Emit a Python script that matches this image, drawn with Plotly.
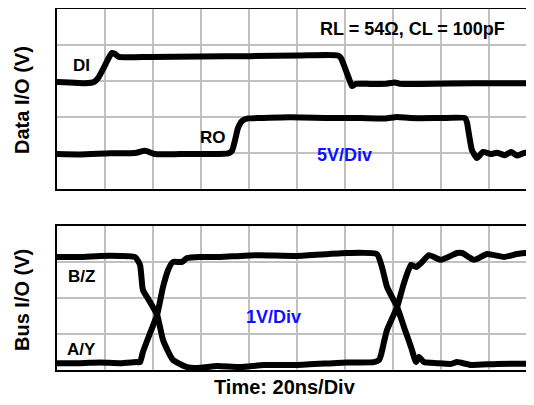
import plotly.graph_objects as go

# Time axis in ns (20 ns/div); vertical values in screen divisions
di_t = [0, 5.4, 11.7, 15.4, 17.1, 19.2, 21.3, 22.9, 24.2, 25.8, 38.8, 59.6, 80.4, 101.3, 117.1, 118.3,
        120.0, 121.7, 122.9, 124.6, 130.4, 136.7, 140.8, 142.9, 151.3, 163.8, 184.6, 202.1]
di_v = [2.97, 2.96, 2.94, 2.97, 3.08, 3.33, 3.61, 3.78, 3.75, 3.67, 3.67, 3.68, 3.69, 3.71, 3.71, 3.64,
        3.36, 3.06, 2.86, 2.92, 2.92, 2.92, 2.96, 2.92, 2.92, 2.93, 2.94, 2.94]

ro_t = [0, 9.6, 22.1, 32.5, 36.7, 40.8, 51.3, 63.8, 71.3, 72.9, 74.2, 75.4, 77.1, 79.6, 84.6, 97.1,
        113.8, 126.3, 136.7, 141.7, 147.1, 159.6, 170.0, 170.8, 171.7, 172.9, 175.0, 177.5, 180.8,
        183.3, 186.7, 189.2, 191.7, 194.6, 202.1]
ro_v = [0.97, 0.96, 0.99, 1.00, 1.06, 0.97, 0.97, 0.97, 0.99, 1.06, 1.36, 1.69, 1.89, 1.96, 1.97, 1.99,
        1.97, 1.97, 1.96, 2.00, 1.97, 1.97, 1.97, 1.86, 1.50, 1.08, 0.86, 1.03, 0.97,
        1.01, 0.94, 1.03, 0.93, 1.00, 1.00]

bz_t = [0, 9.6, 17.9, 26.3, 32.5, 34.6, 35.8, 38.3, 41.7, 44.2, 48.3, 54.2, 59.6, 66.7, 76.3, 86.3,
        100.0, 120.8, 132.1, 134.2, 135.0, 137.5, 141.7, 144.6, 147.5, 149.6, 151.7, 155.0, 160.0,
        166.7, 168.8, 173.8, 179.2, 186.3, 191.7, 195.8, 202.1]
bz_v = [3.14, 3.14, 3.17, 3.17, 3.14, 2.92, 2.22, 1.94, 1.53, 0.83, 0.28, 0.08, 0.06, 0.11, 0.08, 0.14,
        0.14, 0.21, 0.22, 0.28, 0.42, 1.11, 1.75, 2.42, 2.92, 2.86, 2.97, 3.19, 3.06,
        3.25, 3.25, 3.06, 3.22, 3.14, 3.22, 3.25, 3.19]

ay_t = [0, 9.6, 17.9, 26.3, 33.3, 34.6, 35.8, 38.8, 41.7, 44.2, 46.3, 48.3, 52.1, 54.2, 59.6, 67.9,
        76.3, 84.6, 100.0, 120.8, 133.3, 135.4, 137.5, 141.7, 144.6, 147.5, 149.6, 150.8, 152.9,
        158.3, 164.2, 166.7, 172.5, 183.3, 202.1]
ay_v = [0.19, 0.19, 0.21, 0.19, 0.22, 0.22, 0.50, 1.03, 1.53, 2.31, 2.78, 3.00, 3.00, 3.11, 3.14, 3.14,
        3.17, 3.19, 3.17, 3.25, 3.22, 2.86, 2.31, 1.75, 1.19, 0.64, 0.22, 0.36, 0.22,
        0.19, 0.17, 0.22, 0.14, 0.17, 0.17]

top_divs = 5
bot_divs = 4

L, R, T, B = 49, 0, 1, 43
W, H = 534, 405
plot_w = W - L - R
plot_h = H - T - B
x_max = plot_w / 48 * 20  # 48 px per 20 ns division

line_style = dict(color="black", width=6, shape="spline", smoothing=0.5)

fig = go.Figure()
fig.add_trace(go.Scatter(x=di_t, y=di_v, mode="lines", line=line_style, xaxis="x", yaxis="y"))
fig.add_trace(go.Scatter(x=ro_t, y=ro_v, mode="lines", line=line_style, xaxis="x", yaxis="y"))
fig.add_trace(go.Scatter(x=bz_t, y=bz_v, mode="lines", line=line_style, xaxis="x2", yaxis="y2"))
fig.add_trace(go.Scatter(x=ay_t, y=ay_v, mode="lines", line=line_style, xaxis="x2", yaxis="y2"))

grid = "#c0c0c0"
ax_common = dict(range=[0, x_max], dtick=20, tick0=0, showgrid=True, gridcolor=grid, gridwidth=1.5,
                 showticklabels=False, ticks="", zeroline=False, showline=True, linecolor="black",
                 linewidth=2, mirror=True, fixedrange=True)
ay_common = dict(dtick=1, showgrid=True, gridcolor=grid, gridwidth=1.5,
                 showticklabels=False, ticks="", zeroline=False, showline=True, linecolor="black",
                 linewidth=2, mirror=False, fixedrange=True)

# panel pixel extents (figure coords)
top_dom = [(H - B - 181) / plot_h, 1]
bot_dom = [0, (H - B - 218) / plot_h]

fig.update_layout(
    width=W, height=H,
    margin=dict(l=L, r=R, t=T, b=B),
    plot_bgcolor="white", paper_bgcolor="white",
    showlegend=False,
    font=dict(family="Liberation Sans, Arial, sans-serif", size=18, color="black"),
    xaxis=dict(ax_common, anchor="y"),
    xaxis2=dict(ax_common, anchor="y2"),
    yaxis=dict(ay_common, domain=top_dom, range=[0, top_divs], anchor="x"),
    yaxis2=dict(ay_common, domain=bot_dom, range=[0, bot_divs], anchor="x2"),
)

def lab(text, x, y, xref="x", yref="y", color="black", size=18, angle=0):
    fig.add_annotation(text="<b>%s</b>" % text, x=x, y=y, xref=xref, yref=yref, showarrow=False,
                       font=dict(color=color, size=size), textangle=angle,
                       xanchor="center", yanchor="middle")

lab("DI", 10, 3.42, size=17)
lab("RO", 65, 1.44, size=17)
lab("RL = 54Ω, CL = 100pF", 148, 4.44)
lab("5V/Div", 119.6, 0.94, color="#1010ff")
lab("B/Z", 10, 2.61, "x2", "y2", size=17)
lab("A/Y", 10, 0.58, "x2", "y2", size=17)
lab("1V/Div", 90.4, 1.47, "x2", "y2", color="#1010ff")

# axis titles (positions relative to the plot area)
lab("Data I/O (V)", -35 / plot_w, (362 - 92) / plot_h, "paper", "paper", size=20, angle=-90)
lab("Bus I/O (V)", -35 / plot_w, (362 - 292) / plot_h, "paper", "paper", size=20, angle=-90)
lab("Time: 20ns/Div", 228 / plot_w, -17 / plot_h, "paper", "paper", size=20)

fig.write_html("out.html")
